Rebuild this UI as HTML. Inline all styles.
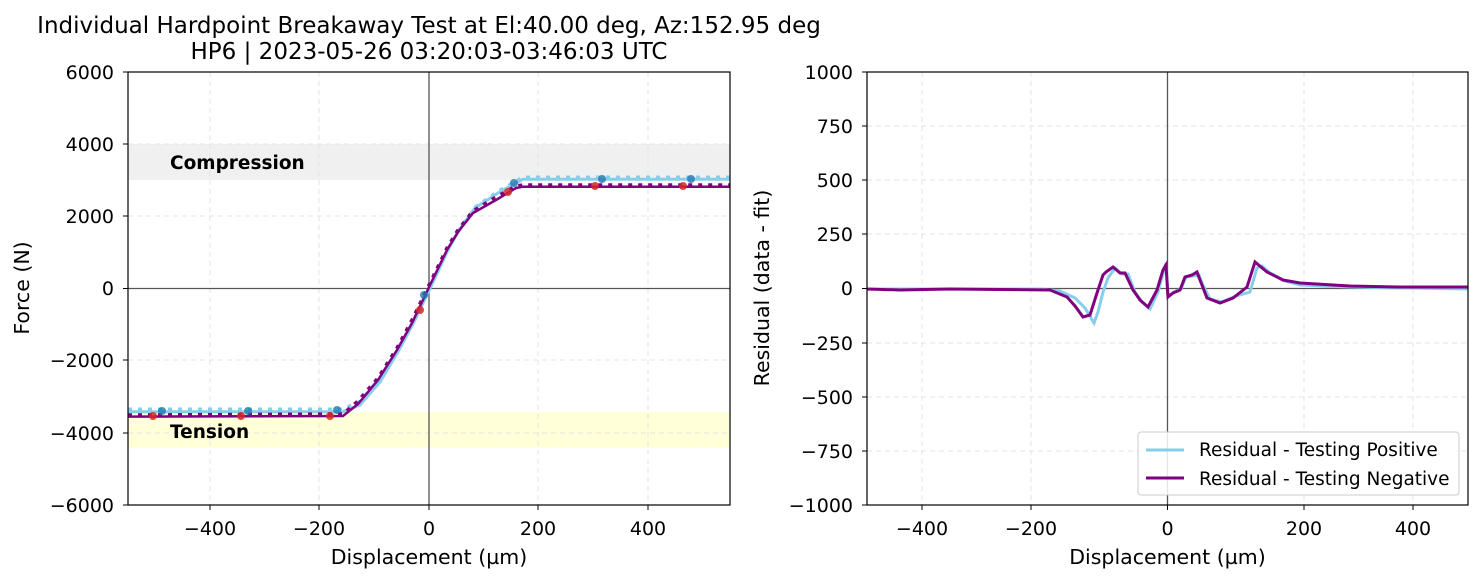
<!DOCTYPE html><html><head><style>body{margin:0;background:#fff}svg text{font-family:"DejaVu Sans","Liberation Sans",sans-serif;fill:#000}</style></head><body>
<svg width="1483" height="583" xmlns="http://www.w3.org/2000/svg">
<text x="429" y="33" font-size="23" text-anchor="middle">Individual Hardpoint Breakaway Test at El:40.00 deg, Az:152.95 deg</text>
<text x="429" y="59" font-size="23" text-anchor="middle">HP6 | 2023-05-26 03:20:03-03:46:03 UTC</text>
<!-- left -->
<rect x="128" y="144" width="602" height="36" fill="#f0f0f0"/>
<rect x="128" y="412" width="602" height="36" fill="#ffffd8"/>
<g stroke="#e3e3e3" stroke-dasharray="5,4" stroke-width="1">
<line x1="210" y1="72" x2="210" y2="505"/><line x1="319" y1="72" x2="319" y2="505"/><line x1="538" y1="72" x2="538" y2="505"/><line x1="648" y1="72" x2="648" y2="505"/>
<line x1="128" y1="144" x2="730" y2="144"/><line x1="128" y1="216" x2="730" y2="216"/><line x1="128" y1="360" x2="730" y2="360"/><line x1="128" y1="433" x2="730" y2="433"/>
<line x1="1031" y1="72" x2="1031" y2="505"/><line x1="1304" y1="72" x2="1304" y2="505"/><line x1="922" y1="72" x2="922" y2="505"/><line x1="1413" y1="72" x2="1413" y2="505"/>
<line x1="867" y1="126" x2="1468" y2="126"/><line x1="867" y1="180" x2="1468" y2="180"/><line x1="867" y1="234" x2="1468" y2="234"/><line x1="867" y1="343" x2="1468" y2="343"/><line x1="867" y1="397" x2="1468" y2="397"/><line x1="867" y1="451" x2="1468" y2="451"/>
</g>
<line x1="128" y1="288.5" x2="730" y2="288.5" stroke="#555" stroke-width="1.3"/>
<line x1="429" y1="72" x2="429" y2="505" stroke="#555" stroke-width="1.3"/>
<text x="170" y="169" font-size="18.5" font-weight="bold">Compression</text>
<text x="170" y="438" font-size="18.5" font-weight="bold">Tension</text>
<polyline fill="none" stroke="#87ceeb" stroke-width="3" points="128,411.7 343,411.7 360,405 380,382 399,350 414,322 433,282 449,248 460,229 475,208 498,193 514,184 523,179.3 730,179.3"/>
<polyline fill="none" stroke="#87ceeb" stroke-width="3" stroke-dasharray="4,6" points="128,409 343,409 360,401 380,378 399,348 414,320 433,281 449,247 460,228 475,207 498,191 514,182 523,177 730,177"/>
<polyline fill="none" stroke="#800080" stroke-width="2.5" points="128,416.6 343,416 358,404 378,380 397,350 412,323 431,283 447,250 458,232 473,213 496,200 516,188 523,186.7 730,186.7"/>
<polyline fill="none" stroke="#800080" stroke-width="3.5" stroke-dasharray="4,6" points="128,415 343,414 358,401 378,378 397,348 412,320 431,281 447,248 458,230 473,211 496,197 516,186 523,185 730,185"/>
<g fill="#1f77b4" opacity="0.8"><circle cx="162" cy="411" r="4"/><circle cx="248" cy="411" r="4"/><circle cx="337" cy="410" r="4"/><circle cx="514" cy="183" r="4"/><circle cx="602" cy="179" r="4"/><circle cx="691" cy="179" r="4"/><circle cx="424" cy="295" r="4"/></g>
<g fill="#d62728" opacity="0.85"><circle cx="153" cy="416" r="4"/><circle cx="241" cy="416" r="4"/><circle cx="330" cy="416" r="4"/><circle cx="508" cy="192" r="4"/><circle cx="595" cy="186" r="4"/><circle cx="683" cy="186" r="4"/><circle cx="420" cy="310" r="4"/></g>
<rect x="128" y="72" width="602" height="433" fill="none" stroke="#000" stroke-width="1.2"/>
<g font-size="19" text-anchor="end">
<text x="114" y="79">6000</text><text x="114" y="151">4000</text><text x="114" y="223">2000</text><text x="114" y="295">0</text><text x="114" y="367">−2000</text><text x="114" y="440">−4000</text><text x="114" y="512">−6000</text>
<text x="853" y="79">1000</text><text x="853" y="133">750</text><text x="853" y="187">500</text><text x="853" y="241">250</text><text x="853" y="295">0</text><text x="853" y="350">−250</text><text x="853" y="404">−500</text><text x="853" y="458">−750</text><text x="853" y="512">−1000</text>
</g>
<g stroke="#000"><line x1="123" y1="72" x2="128" y2="72"/><line x1="123" y1="144" x2="128" y2="144"/><line x1="123" y1="216" x2="128" y2="216"/><line x1="123" y1="288.5" x2="128" y2="288.5"/><line x1="123" y1="360" x2="128" y2="360"/><line x1="123" y1="433" x2="128" y2="433"/><line x1="123" y1="505" x2="128" y2="505"/>
<line x1="210" y1="505" x2="210" y2="510"/><line x1="319" y1="505" x2="319" y2="510"/><line x1="429" y1="505" x2="429" y2="510"/><line x1="538" y1="505" x2="538" y2="510"/><line x1="648" y1="505" x2="648" y2="510"/>
<line x1="922" y1="505" x2="922" y2="510"/><line x1="1031" y1="505" x2="1031" y2="510"/><line x1="1167.5" y1="505" x2="1167.5" y2="510"/><line x1="1304" y1="505" x2="1304" y2="510"/><line x1="1413" y1="505" x2="1413" y2="510"/>
<line x1="862" y1="72" x2="867" y2="72"/><line x1="862" y1="126" x2="867" y2="126"/><line x1="862" y1="180" x2="867" y2="180"/><line x1="862" y1="234" x2="867" y2="234"/><line x1="862" y1="288.5" x2="867" y2="288.5"/><line x1="862" y1="343" x2="867" y2="343"/><line x1="862" y1="397" x2="867" y2="397"/><line x1="862" y1="451" x2="867" y2="451"/><line x1="862" y1="505" x2="867" y2="505"/></g>
<g font-size="19" text-anchor="middle">
<text x="210" y="535">−400</text><text x="319" y="535">−200</text><text x="429" y="535">0</text><text x="538" y="535">200</text><text x="648" y="535">400</text>
<text x="922" y="535">−400</text><text x="1031" y="535">−200</text><text x="1167.5" y="535">0</text><text x="1304" y="535">200</text><text x="1413" y="535">400</text>
</g>
<g font-size="20.5" text-anchor="middle">
<text x="429" y="564">Displacement (µm)</text><text x="1167.5" y="564">Displacement (µm)</text>
</g>
<text transform="translate(29,288) rotate(-90)" font-size="20.5" text-anchor="middle">Force (N)</text>
<text transform="translate(769,288) rotate(-90)" font-size="20.5" text-anchor="middle">Residual (data - fit)</text>
<!-- right -->
<line x1="867" y1="288.5" x2="1468" y2="288.5" stroke="#555" stroke-width="1.3"/>
<line x1="1167.5" y1="72" x2="1167.5" y2="505" stroke="#555" stroke-width="1.3"/>
<polyline fill="none" stroke="#87ceeb" stroke-width="3" points="867,289 1040,289 1060,291 1075,298 1085,308 1091,318 1094,323 1098,312 1103,292 1108,278 1115,268 1122,274 1128,274 1135,292 1142,302 1150,309 1158,292 1164,270 1166,263 1168,296 1174,292 1181,289 1186,277 1193,276 1199,275 1202,283 1210,299 1222,302 1236,296 1250,292 1257,268 1262,266 1270,273 1285,281 1300,285 1350,287 1468,289"/>
<polyline fill="none" stroke="#800080" stroke-width="3" points="867,289 900,290 950,289 1000,289.5 1050,290 1067,297 1075,306 1083,317 1090,315 1097,293 1103,275 1106,272 1113,267 1120,273 1125,273 1133,290 1140,300 1148,307 1157,290 1163,270 1166,265 1168,297 1173,293 1180,290 1185,277 1192,275 1197,272 1200,280 1207,298 1220,303 1233,298 1247,287 1255,262 1267,272 1283,280 1300,283 1350,286 1400,287 1468,287"/>
<rect x="867" y="72" width="601" height="433" fill="none" stroke="#000" stroke-width="1.2"/>
<rect x="1138" y="432" width="321" height="63" rx="3" fill="#fff" fill-opacity="0.85" stroke="#ccc"/>
<line x1="1146" y1="450" x2="1184" y2="450" stroke="#87ceeb" stroke-width="3"/>
<line x1="1146" y1="478" x2="1184" y2="478" stroke="#800080" stroke-width="3"/>
<text x="1199" y="456" font-size="18.5">Residual - Testing Positive</text>
<text x="1199" y="485" font-size="18.5">Residual - Testing Negative</text>
</svg></body></html>
